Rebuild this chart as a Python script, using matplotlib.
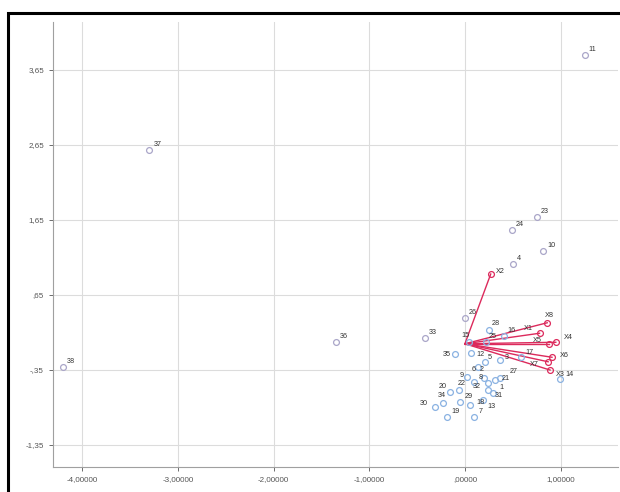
import matplotlib
matplotlib.use('Agg')
import matplotlib.pyplot as plt
from matplotlib.patches import Rectangle

# Object points (case numbers and their coordinates)
obj_ids = [str(i) for i in range(1, 39)]
obj_x = [0.29, 0.20, 0.37, 0.50, 0.21, 0.14, 0.10, 0.10, 0.02, 0.82,
         1.25, 0.06, 0.19, 0.99, 0.04, 0.41, 0.59, 0.05, -0.19, -0.16,
         0.31, -0.06, 0.75, 0.49, 0.22, 0.00, 0.37, 0.25, -0.05, -0.31,
         0.24, 0.24, -0.42, -0.23, -0.10, -1.35, -3.30, -4.20]
obj_y = [-0.66, -0.46, -0.22, 1.06, -0.24, -0.31, -0.98, -0.51, -0.44, 1.24,
         3.85, -0.12, -0.75, -0.47, 0.02, 0.10, -0.18, -0.82, -0.98, -0.64,
         -0.48, -0.62, 1.69, 1.52, 0.02, 0.34, -0.46, 0.18, -0.78, -0.84,
         -0.62, -0.52, 0.08, -0.79, -0.14, 0.02, 2.58, -0.31]

# Variable loadings (vectors from origin)
var_names = ['X1', 'X2', 'X3', 'X4', 'X5', 'X6', 'X7', 'X8']
var_x = [0.78, 0.27, 0.89, 0.95, 0.88, 0.91, 0.87, 0.86]
var_y = [0.14, 0.93, -0.35, 0.02, 0.00, -0.18, -0.24, 0.28]

x_ticks = [-4, -3, -2, -1, 0, 1]
x_labels = ['-4,00000', '-3,00000', '-2,00000', '-1,00000', ',00000', '1,00000']
y_ticks = [-1.35, -0.35, 0.65, 1.65, 2.65, 3.65]
y_labels = ['-1,35', '-,35', ',65', '1,65', '2,65', '3,65']

plt.rcParams['font.family'] = ['Liberation Sans', 'DejaVu Sans']

# label offsets (points) where the default upper-right spot is crowded
label_offset = {
    '35': (-9, -1), '30': (-11, 1), '34': (-4, 4), '20': (-8, 3),
    '22': (-1, 4), '13': (3, -6), '31': (5, -5), '1': (5, 3),
    '32': (-11, -4), '27': (7, 4), '21': (5, 0), '3': (3, 1),
    '2': (-3, 5), '8': (3, 2), '9': (-5, 0), '18': (5, 1),
    '12': (4, -2), '5': (2, 2), '6': (-5, -3), '17': (3, 2),
    '25': (2, 3), '15': (-5, 4), '28': (2, 4), '16': (2, 3),
    'X1': (-11, 2), 'X4': (6, 2), 'X5': (-12, 1), 'X6': (6, 0),
    'X7': (-13, -3), 'X3': (4, -4), 'X8': (-2, 4), 'X2': (4, 1),
    '14': (4, 2),
}

fig = plt.figure(figsize=(6.2, 4.92), dpi=100)
ax = fig.add_axes([53 / 620, 25 / 492, 565 / 620, 445 / 492])

grey_pts = {'11', '37', '38', '36', '33', '26', '4', '10', '23', '24'}
for pid, x, y in zip(obj_ids, obj_x, obj_y):
    col = '#aaa6c8' if pid in grey_pts else '#8ab2e2'
    ax.plot(x, y, 'o', ms=4.2, mfc='none', mec=col, mew=0.9, zorder=3)
    ax.annotate(pid, (x, y), xytext=label_offset.get(pid, (3, 3)),
                textcoords='offset points', fontsize=5.2, color='#333333',
                zorder=4)

for name, x, y in zip(var_names, var_x, var_y):
    ax.plot([0, x], [0, y], color='#dc2a5c', lw=1.0, zorder=2)
    ax.plot(x, y, 'o', ms=4.2, mfc='none', mec='#dc2a5c', mew=0.9, zorder=3)
    ax.annotate(name, (x, y), xytext=label_offset.get(name, (4, 2)),
                textcoords='offset points', fontsize=5.2, color='#333333',
                zorder=4)

ax.set_xlim(-4.305, 1.60)
ax.set_ylim(-1.643, 4.29)
ax.set_xticks(x_ticks, labels=x_labels)
ax.set_yticks(y_ticks, labels=y_labels)
ax.tick_params(labelsize=5.8, colors='#555555', length=3, width=0.6)
ax.grid(True, color='#dcdcdc', lw=0.8)
ax.set_axisbelow(True)
for side in ['top', 'right']:
    ax.spines[side].set_visible(False)
for side in ['left', 'bottom']:
    ax.spines[side].set_color('#a0a0a0')
    ax.spines[side].set_linewidth(0.8)

# black frame around the chart
fig.add_artist(Rectangle((8 / 620, -0.1), 1.2, (492 - 13) / 492 + 0.1,
                         transform=fig.transFigure, fill=False,
                         ec='black', lw=2.2, clip_on=False))

fig.savefig('out.png', dpi=100)
